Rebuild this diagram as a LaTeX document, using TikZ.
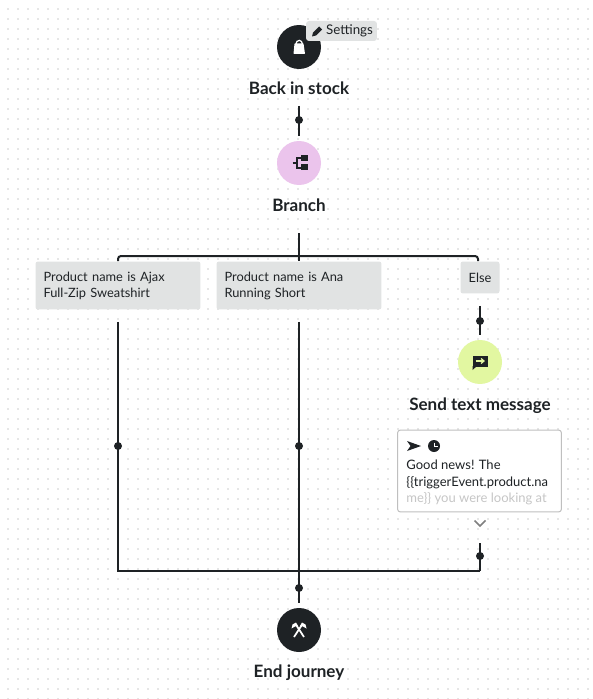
\documentclass[tikz,border=0pt]{standalone}
\usepackage{fontspec}
\setmainfont{Lato}
\usetikzlibrary{arrows.meta,positioning,calc}
\definecolor{inkdark}{HTML}{1E2225}
\definecolor{boxgray}{HTML}{E1E3E3}
\definecolor{griddot}{HTML}{E6E6E6}
\definecolor{branchpink}{HTML}{EBC4EC}
\definecolor{smslime}{HTML}{E2F7A1}
\begin{document}
\begin{tikzpicture}[
  x=0.02cm, y=-0.02cm,
  stepnode/.style={circle, minimum size=0.88cm, inner sep=0pt, fill=inkdark},
  steplabel/.style={font=\fontsize{9.7pt}{11pt}\selectfont\bfseries, text=inkdark, minimum height=0.4cm, inner sep=0pt},
  condition/.style={rectangle, rounded corners=0.05cm, fill=boxgray, text=inkdark, align=left, inner sep=0pt, minimum height=0.96cm, minimum width=3.3cm, text width=2.98cm, font=\fontsize{7.3pt}{9.1pt}\selectfont},
  wire/.style={draw=inkdark, line width=0.04cm},
  wiredot/.style={circle, fill=inkdark, minimum size=0.16cm, inner sep=0pt}
]
  \useasboundingbox (0,0) rectangle (592,699);
  \fill[white] (0,0) rectangle (592,699);

  % dotted canvas
  \foreach \gx in {0,...,58}
    \foreach \gy in {0,...,69}
      \fill[griddot] ({7+10*\gx},{8+10*\gy}) rectangle +(2,2);

  % journey steps (centre column)
  \node[stepnode] (stock) at (299,47) {};
  \node[steplabel] (stocklabel) at (299,88.5) {Back in stock};
  \node[stepnode, fill=branchpink] (branch) at (299,163) {};
  \node[steplabel] (branchlabel) at (299,205) {Branch};
  \node[stepnode] (end) at (299,630) {};
  \node[steplabel] (endlabel) at (299,673) {End journey};

  % settings badge
  \node[rectangle, rounded corners=0.06cm, fill=boxgray, text=inkdark, minimum width=1.42cm, minimum height=0.4cm, inner sep=0pt, font=\fontsize{7.6pt}{8pt}\selectfont] (settings) at (341.5,31) {\hspace{0.32cm}Settings};

  % branch conditions
  \node[condition] (ajax) at (118,285.5) {Product name is Ajax\\Full-Zip Sweatshirt};
  \node[condition] (ana) at (299,285.5) {Product name is Ana\\Running Short};
  \node[condition, minimum width=0.78cm, text width=0.78cm, minimum height=0.64cm, align=center] (else) at (480,277.5) {Else};

  % text message side
  \node[stepnode, fill=smslime] (sms) at (480,362) {};
  \node[steplabel] (smslabel) at (480,406) {Send text message};
  \node[rectangle, rounded corners=0.06cm, draw=gray!50, fill=white, line width=0.02cm, minimum width=3.28cm, minimum height=1.64cm, inner sep=0pt] (card) at (479.5,471) {};
  \node[anchor=north west, inner sep=0pt, text=inkdark, align=left, font=\fontsize{7.4pt}{9.4pt}\selectfont] (cardtext) at (406,460) {Good news! The\\\{\{triggerEvent.product.na\\\textcolor{gray!45}{me\}\} you were looking at}};

  % wire dots
  \node[wiredot] (dottop) at (299,120) {};
  \node[wiredot] (dotelse) at (480,321) {};
  \node[wiredot] (dotajax) at (118,446) {};
  \node[wiredot] (dotana) at (299,446) {};
  \node[wiredot] (dotcard) at (480,556) {};
  \node[wiredot] (dotend) at (299,588) {};
  \coordinate (split) at (299,256);
  \coordinate (railright) at (478,261);
  \coordinate (mergeleft) at (118,571);
  \coordinate (mergeright) at (480,571);

  % connectors
  \draw[wire, shorten <=0.14cm, shorten >=0.1cm] (stocklabel.south) -- (branch.north);
  \draw[wire, shorten <=0.36cm] (branchlabel.south) -- (ana.north);
  \draw[wire, rounded corners=0.06cm] (ajax.north) |- (split);
  \draw[wire, rounded corners=0.06cm] (split) -| (railright);
  \draw[wire, shorten <=0.24cm, shorten >=0.1cm] (else.south) -- (sms.north);
  \draw[wire, shorten <=0.24cm] (ajax.south) -- (mergeleft) -- (mergeright);
  \draw[wire, shorten <=0.62cm] (card.south -| mergeright) -- (mergeright);
  \draw[wire, shorten <=0.24cm, shorten >=0.1cm] (ana.south) -- (end.north);

  % step icons
  \fill[white, rounded corners=0.01cm] (294.5,43.5) -- (303.5,43.5) -- (305,54) -- (293.5,54) -- cycle;
  \draw[white, line width=0.025cm] (296,44) arc[start angle=180, end angle=360, x radius=3.2, y radius=3.6];
  \fill[inkdark] (300.5,155.5) rectangle (307.5,161.5);
  \fill[inkdark] (300.5,164.5) rectangle (307.5,170.5);
  \draw[inkdark, line width=0.03cm] (300.5,158) -- (297,158) -- (297,168) -- (300.5,168);
  \draw[inkdark, line width=0.03cm] (292.5,163) -- (297,163);
  % pencil
  \fill[inkdark] (312,36.5) -- (313,32.5) -- (319,26.5) -- (322,29.5) -- (316,35.5) -- cycle;
  % message bubble
  \fill[inkdark] (472.5,356) rectangle (487.5,366.5);
  \fill[inkdark] (472.5,366) -- (472.5,370) -- (477,366) -- cycle;
  \draw[smslime, line width=0.025cm] (475.5,361) -- (484,361);
  \draw[smslime, line width=0.025cm] (481,358.5) -- (484,361) -- (481,363.5);
  % card icons
  \fill[inkdark] (407,441) -- (421,446) -- (407,451) -- (410.5,446) -- cycle;
  \fill[inkdark] (434,446) circle[radius=6];
  \draw[white, line width=0.02cm] (434,442.5) -- (434,446.3) -- (437.5,446.3);
  % crossed axes
  \draw[white, line width=0.035cm] (295.5,624) -- (304,637);
  \draw[white, line width=0.035cm] (302.5,624) -- (294,637);
  \fill[white] (291.5,628.5) -- (292.5,624.5) -- (296,622.5) -- (298,626) -- (295,626.5) -- cycle;
  \fill[white] (306.5,628.5) -- (305.5,624.5) -- (302,622.5) -- (300,626) -- (303,626.5) -- cycle;
  % chevron
  \draw[gray, line width=0.03cm] (474.5,520.5) -- (480,526) -- (485.5,520.5);
\end{tikzpicture}
\end{document}
